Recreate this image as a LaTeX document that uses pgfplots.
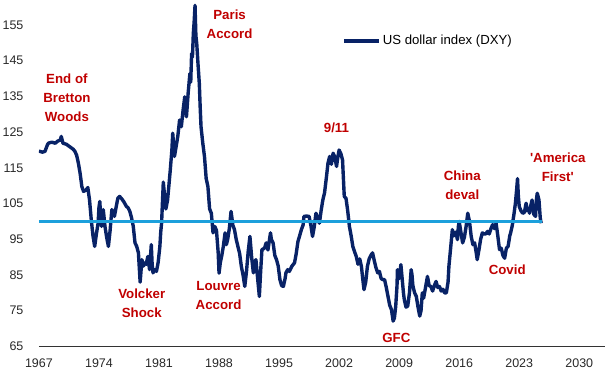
\documentclass[border=0pt]{standalone}
\usepackage{pgfplots}
\pgfplotsset{compat=1.18}
\usepackage{fontspec}
\setmainfont{Liberation Sans}
\newcommand\sq{\XeTeXglyph\XeTeXglyphindex "quotesingle"\relax}
\definecolor{navy}{RGB}{8,34,102}
\definecolor{cyanline}{RGB}{28,160,220}
\definecolor{annred}{RGB}{192,0,0}
\definecolor{ticktxt}{RGB}{40,40,40}
\pgfplotstableread{
year val
1967.0 119.7
1967.4 119.4
1967.7 119.6
1968.0 121.5
1968.1 121.9
1968.5 122.2
1968.9 121.9
1969.2 122.5
1969.5 122.8
1969.6 123.8
1969.8 121.9
1970.2 121.6
1970.6 120.9
1971.0 120.2
1971.2 119.6
1971.4 118.5
1971.6 116.3
1971.8 113.5
1972.0 109.8
1972.2 108.4
1972.5 108.8
1972.7 109.5
1972.9 106.0
1973.1 100.5
1973.3 96.0
1973.5 93.0
1973.7 96.5
1973.9 99.5
1974.0 104.0
1974.1 105.6
1974.2 101.0
1974.3 98.6
1974.4 101.5
1974.5 103.3
1974.6 101.0
1974.7 98.6
1974.9 95.5
1975.1 93.0
1975.3 97.5
1975.5 103.3
1975.7 102.5
1975.8 101.4
1976.0 104.0
1976.2 106.5
1976.4 107.0
1976.6 106.5
1976.9 105.5
1977.2 104.2
1977.4 103.8
1977.6 102.8
1977.8 101.0
1978.0 98.6
1978.2 94.0
1978.4 93.0
1978.6 91.2
1978.8 83.0
1978.9 86.0
1979.0 89.3
1979.2 87.5
1979.3 88.4
1979.5 88.0
1979.7 90.2
1979.9 86.5
1980.1 93.5
1980.2 88.0
1980.3 85.6
1980.5 86.5
1980.7 86.0
1980.9 88.5
1981.1 93.0
1981.2 97.0
1981.3 99.5
1981.5 111.0
1981.8 103.5
1982.0 106.0
1982.3 114.0
1982.5 120.0
1982.6 124.7
1982.8 118.2
1983.0 121.0
1983.2 124.0
1983.4 128.4
1983.6 126.5
1983.8 131.0
1984.0 134.9
1984.2 129.3
1984.4 136.0
1984.6 141.4
1984.7 139.0
1984.8 147.0
1984.9 146.0
1985.0 152.6
1985.1 156.0
1985.2 160.5
1985.3 152.0
1985.4 149.8
1985.55 144.0
1985.7 138.6
1985.8 132.0
1985.9 126.5
1986.1 122.0
1986.3 118.2
1986.5 112.0
1986.7 109.8
1986.9 103.5
1987.1 102.3
1987.3 96.8
1987.5 98.6
1987.7 97.5
1987.9 91.2
1988.0 85.5
1988.15 88.5
1988.3 90.2
1988.5 93.0
1988.7 96.8
1988.85 93.5
1989.0 94.9
1989.2 98.0
1989.4 102.8
1989.5 101.0
1989.6 99.0
1989.8 97.7
1990.0 95.0
1990.2 93.0
1990.4 91.0
1990.6 87.4
1990.8 85.0
1991.0 81.8
1991.2 86.0
1991.4 91.6
1991.6 95.8
1991.8 90.0
1992.0 85.6
1992.15 88.5
1992.3 89.3
1992.5 84.0
1992.7 79.0
1992.85 86.0
1993.0 92.1
1993.3 92.5
1993.5 94.0
1993.7 92.0
1994.0 96.8
1994.1 95.0
1994.3 94.0
1994.5 90.5
1994.7 89.3
1994.9 87.5
1995.1 83.7
1995.3 82.0
1995.5 81.8
1995.7 84.0
1995.8 85.6
1996.0 86.5
1996.2 86.0
1996.5 87.5
1996.8 88.4
1997.0 91.0
1997.2 94.4
1997.4 96.0
1997.6 97.7
1997.8 99.0
1997.9 101.4
1998.2 101.5
1998.5 101.4
1998.7 99.0
1998.9 95.8
1999.1 98.5
1999.3 102.3
1999.5 101.0
1999.7 99.5
1999.9 103.0
2000.1 106.0
2000.3 108.0
2000.5 112.0
2000.7 116.3
2000.9 118.2
2001.1 116.0
2001.3 119.1
2001.5 118.0
2001.7 115.4
2001.85 118.0
2002.0 120.0
2002.2 119.0
2002.4 117.2
2002.5 112.0
2002.6 107.0
2002.8 106.5
2003.0 103.0
2003.2 98.6
2003.4 96.0
2003.6 93.0
2003.8 91.5
2004.0 90.2
2004.2 88.0
2004.4 89.5
2004.6 87.4
2004.75 84.0
2004.9 80.9
2005.1 83.0
2005.3 87.4
2005.5 89.5
2005.7 90.5
2005.9 91.2
2006.1 89.0
2006.3 87.0
2006.5 85.6
2006.7 86.0
2006.9 84.0
2007.1 83.7
2007.3 83.7
2007.5 81.5
2007.7 79.0
2007.9 76.5
2008.1 75.3
2008.3 72.1
2008.45 73.0
2008.6 76.3
2008.75 82.0
2008.8 86.5
2009.0 84.0
2009.2 87.9
2009.35 84.0
2009.5 80.0
2009.6 78.1
2009.8 76.0
2010.0 76.3
2010.2 80.0
2010.4 86.5
2010.5 85.0
2010.6 82.0
2010.8 80.0
2011.0 79.0
2011.2 76.0
2011.4 73.5
2011.55 75.0
2011.7 80.0
2011.85 78.5
2012.0 80.5
2012.3 84.6
2012.5 82.0
2012.7 81.8
2012.9 80.5
2013.1 82.0
2013.3 83.2
2013.5 81.5
2013.7 81.8
2013.9 80.5
2014.1 81.0
2014.3 80.0
2014.5 80.0
2014.7 83.0
2014.8 87.4
2015.0 92.5
2015.2 97.7
2015.4 96.0
2015.6 97.0
2015.8 94.9
2015.9 98.5
2016.0 100.0
2016.2 97.0
2016.4 94.0
2016.6 95.5
2016.8 98.5
2017.0 102.3
2017.2 100.0
2017.4 95.8
2017.6 93.5
2017.8 94.0
2018.0 91.0
2018.1 89.3
2018.3 92.0
2018.5 95.0
2018.7 96.8
2018.9 96.5
2019.1 96.5
2019.3 97.2
2019.5 96.5
2019.7 98.0
2019.9 99.1
2020.1 98.0
2020.3 99.5
2020.5 96.0
2020.7 92.1
2020.9 92.5
2021.1 90.5
2021.3 89.7
2021.5 92.5
2021.7 93.0
2021.9 96.0
2022.0 96.8
2022.2 99.0
2022.4 102.3
2022.55 105.0
2022.7 109.0
2022.8 112.0
2022.9 107.0
2023.0 104.2
2023.2 103.0
2023.4 102.3
2023.6 102.5
2023.8 105.1
2023.95 103.0
2024.1 103.2
2024.2 102.3
2024.35 104.5
2024.5 106.0
2024.7 102.0
2024.9 101.4
2025.0 106.0
2025.1 107.9
2025.3 106.0
2025.45 101.0
2025.55 99.5
}\dxy
\begin{document}
\begin{tikzpicture}
\useasboundingbox (-39pt,-27pt) rectangle (567pt,347pt);
\begin{axis}[
  at={(0pt,0pt)}, anchor=south west,
  scale only axis, width=567pt, height=347pt,
  xmin=1967, xmax=2033, ymin=65, ymax=162,
  axis x line*=bottom, axis y line*=left,
  x axis line style={draw=black!80, line width=0.9pt, -},
  y axis line style={draw=none},
  xtick={1967,1974,...,2030},
  ytick={65,75,...,155},
  major tick length=0pt,
  /pgf/number format/assume math mode=true,
  /pgf/number format/1000 sep={},
  ticklabel style={font=\fontsize{12.5}{14}\selectfont, text=ticktxt},
  yticklabel shift=12pt,
  xticklabel shift=9pt,
  legend style={at={(0.536,0.882)}, anchor=west, draw=none, fill=none, inner sep=0pt,
    font=\fontsize{13.2}{15}\selectfont, legend cell align=left},
  legend image code/.code={\draw[#1] (0pt,0pt) -- (35pt,0pt);},
]
\addplot[navy, line width=3.4pt, line join=round] table[x=year, y=val] {\dxy};
\addlegendentry{US dollar index (DXY)}
\addplot[cyanline, line width=2.7pt, forget plot] coordinates {(1967,100) (2025.6,100)};
\begin{scope}[every node/.style={text=annred, font=\bfseries\fontsize{13.3}{19}\selectfont, align=center}]
\node at (axis cs:1970.26,134.6) {End of\\Bretton\\Woods};
\node at (axis cs:1989.23,155.2) {\fontsize{13.3}{18}\selectfont Paris\\Accord};
\node at (axis cs:2001.69,126.2) {9/11};
\node at (axis cs:1978.99,77.0) {\fontsize{13.3}{18}\selectfont Volcker\\Shock};
\node at (axis cs:1987.95,79.25) {\fontsize{13.3}{18}\selectfont Louvre\\Accord};
\node at (axis cs:2008.68,67.5) {GFC};
\node at (axis cs:2016.36,110.0) {\fontsize{13.3}{18}\selectfont China\\deval};
\node at (axis cs:2021.6,86.5) {Covid};
\node at (axis cs:2027.5,115.3) {\fontsize{13.3}{19.5}\selectfont \sq America\\First\sq};
\end{scope}
\end{axis}
\end{tikzpicture}
\end{document}
